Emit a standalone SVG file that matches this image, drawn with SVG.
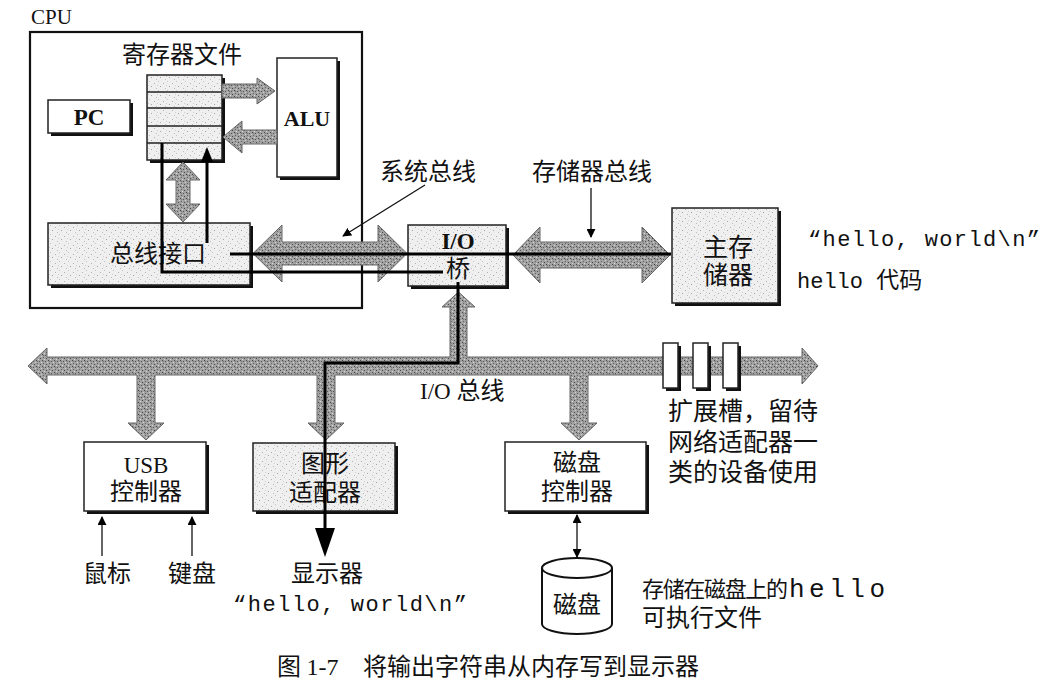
<svg xmlns="http://www.w3.org/2000/svg" width="1048" height="698" viewBox="0 0 1048 698">
<style>
.cjk{font-family:"Noto Sans CJK SC","Noto Sans",sans-serif;fill:#111}
.ser{font-family:"Liberation Serif",serif;fill:#111}
.mono{font-family:"Liberation Mono",monospace;fill:#111}
.box{stroke:#222;stroke-width:1.5}
.sh{fill:#111}
.wl{fill:#fff}
.lt{fill:url(#light)}
.fat{fill:url(#dark);stroke:#666;stroke-width:1}
.blk{fill:none;stroke:#000;stroke-width:3}
.thin{fill:none;stroke:#111;stroke-width:1.3}
.c{text-anchor:middle}
</style>
<defs>
<pattern id="light" width="9" height="9" patternUnits="userSpaceOnUse">
<rect width="9" height="9" fill="#efefef"/>
<rect x="1" y="2" width="1" height="1" fill="#b0b0b0"/>
<rect x="5" y="0" width="1" height="1" fill="#c4c4c4"/>
<rect x="7" y="5" width="1" height="1" fill="#a5a5a5"/>
<rect x="3" y="7" width="1" height="1" fill="#bdbdbd"/>
<rect x="4" y="4" width="1" height="1" fill="#d0d0d0"/>
</pattern>
<pattern id="dark" width="6" height="6" patternUnits="userSpaceOnUse">
<rect width="6" height="6" fill="#a2a2a2"/>
<rect x="0" y="0" width="1" height="1" fill="#444"/>
<rect x="3" y="1" width="1" height="1" fill="#555"/>
<rect x="1" y="3" width="1" height="1" fill="#666"/>
<rect x="4" y="4" width="1" height="1" fill="#4a4a4a"/>
<rect x="2" y="5" width="1" height="1" fill="#d8d8d8"/>
<rect x="5" y="2" width="1" height="1" fill="#d0d0d0"/>
<rect x="1" y="1" width="1" height="1" fill="#777"/>
</pattern>
<marker id="tri" viewBox="0 0 10 10" refX="9" refY="5" markerWidth="9" markerHeight="9" markerUnits="userSpaceOnUse" orient="auto-start-reverse">
<path d="M0,0 L10,5 L0,10 Z" fill="#000"/>
</marker>
</defs>

<text class="ser" x="31" y="24" font-size="21">CPU</text>

<g id="cpu">
<rect x="30" y="32" width="332" height="276" fill="none" stroke="#111" stroke-width="2.2"/>
</g>

<g id="pc">
<rect class="sh" x="51" y="103" width="82" height="33"/>
<rect class="box wl" x="48" y="100" width="82" height="33"/>
<text class="ser c" x="89" y="125" font-size="23" font-weight="bold">PC</text>
</g>

<g id="regfile">
<text class="cjk c" x="182" y="63" font-size="24">寄存器文件</text>
<rect class="sh" x="150" y="78" width="75" height="85"/>
<rect class="box lt" x="147" y="75" width="75" height="85"/>
<path d="M147,92 H222 M147,108 H222 M147,126 H222 M147,143 H222" stroke="#222" stroke-width="1.5"/>
</g>

<g id="alu">
<rect class="sh" x="280" y="61" width="60" height="119"/>
<rect class="box wl" x="277" y="58" width="60" height="119"/>
<text class="ser c" x="307" y="126" font-size="22" font-weight="bold">ALU</text>
</g>

<g id="businterface">
<rect class="sh" x="51" y="226" width="202" height="62"/>
<rect class="box lt" x="48" y="223" width="202" height="62"/>
<text class="cjk c" x="158" y="262" font-size="24">总线接口</text>
</g>

<g id="iobridge">
<rect class="sh" x="411" y="228" width="98" height="61"/>
<rect class="box lt" x="408" y="225" width="98" height="61"/>
<text class="ser c" x="458" y="249" font-size="23" font-weight="bold">I/O</text>
<text class="cjk c" x="458" y="277" font-size="24">桥</text>
</g>

<g id="mainmemory">
<rect class="sh" x="675" y="211" width="106" height="95"/>
<rect class="box lt" x="672" y="208" width="106" height="95"/>
<text class="cjk c" x="728" y="256" font-size="25">主存</text>
<text class="cjk c" x="728" y="284" font-size="25">储器</text>
</g>

<g id="memtext">
<text class="mono" x="808" y="246" font-size="22" textLength="232">“hello, world\n”</text>
<text class="mono" x="797" y="288" font-size="22">hello <tspan class="cjk" font-size="23">代码</tspan></text>
</g>

<g id="usb">
<rect class="sh" x="87" y="445" width="122" height="69"/>
<rect class="box wl" x="84" y="442" width="122" height="69"/>
<text class="ser c" x="146" y="473" font-size="23">USB</text>
<text class="cjk c" x="146" y="500" font-size="24">控制器</text>
</g>

<g id="graphics">
<rect class="sh" x="256" y="446" width="142" height="68"/>
<rect class="box lt" x="253" y="443" width="142" height="68"/>
<text class="cjk c" x="325" y="472" font-size="24">图形</text>
<text class="cjk c" x="325" y="501" font-size="24">适配器</text>
</g>

<g id="diskctrl">
<rect class="sh" x="508" y="445" width="141" height="69"/>
<rect class="box wl" x="505" y="442" width="141" height="69"/>
<text class="cjk c" x="577" y="471" font-size="24">磁盘</text>
<text class="cjk c" x="577" y="500" font-size="24">控制器</text>
</g>

<g id="disk">
<path d="M542,568 V624 A35,10 0 0 0 612,624 V568" fill="#fff" stroke="#111" stroke-width="2"/>
<ellipse cx="577" cy="568" rx="35" ry="10" fill="#fff" stroke="#111" stroke-width="2"/>
<text class="cjk c" x="577" y="613" font-size="24">磁盘</text>
</g>

<g id="connectors">
<polygon class="fat" points="222,84 257,84 257,78 275,91 257,104 257,98 222,98"/>
<polygon class="fat" points="277,130 242,130 242,121 223,137 242,153 242,144 277,144"/>
<polygon class="fat" points="183,162 200,180 190,180 190,204 200,204 183,222 166,204 176,204 176,180 166,180"/>
<polygon class="fat" points="253,253.5 282,225 282,242 378,242 378,225 407,253.5 378,282 378,265 282,265 282,282"/>
<polygon class="fat" points="513,255 540,227 540,242 642,242 642,227 670,255 642,283 642,268 540,268 540,283"/>
<path class="fat" d="M28,366 L47,348 L47,357 L450,357 L450,307 L442,307 L458.5,292 L475,307 L467,307 L467,357 L802,357 L802,348 L818,366 L802,384 L802,375 L588,375 L588,423 L597,423 L579,440 L561,423 L570,423 L570,375 L335,375 L335,423 L344,423 L326,440 L308,423 L317,423 L317,375 L155,375 L155,423 L164,423 L146,440 L128,423 L137,423 L137,375 L47,375 L47,384 Z"/>
<rect class="sh" x="666" y="346" width="15" height="45"/>
<rect class="box wl" x="663" y="343" width="15" height="45"/>
<rect class="sh" x="696" y="346" width="15" height="45"/>
<rect class="box wl" x="693" y="343" width="15" height="45"/>
<rect class="sh" x="726" y="346" width="15" height="45"/>
<rect class="box wl" x="723" y="343" width="15" height="45"/>

<path class="blk" d="M162,143 V272 H443"/>
<path class="blk" d="M207,243 V160"/>
<polygon points="201,162 213,162 207,147" fill="#000"/>
<path class="blk" d="M230,254 H671"/>
<path class="blk" d="M458,282 V363 H325 V530"/>
<polygon points="315,528 335,528 325,557" fill="#000"/>

<path class="thin" d="M425,185 L343,236" marker-end="url(#tri)"/>
<path class="thin" d="M591,188 V237" marker-end="url(#tri)"/>

<path class="thin" d="M102,556 V517" marker-end="url(#tri)"/>
<path class="thin" d="M192,556 V517" marker-end="url(#tri)"/>
<path class="thin" d="M577,515 V557" marker-start="url(#tri)" marker-end="url(#tri)"/>
</g>

<g id="labels">
<text class="cjk" x="380" y="180" font-size="24">系统总线</text>
<text class="cjk" x="532" y="180" font-size="24">存储器总线</text>
<text x="420" y="399" font-size="24"><tspan class="ser" font-size="23">I/O </tspan><tspan class="cjk">总线</tspan></text>
<text class="cjk" x="668" y="420" font-size="25">扩展槽，留待</text>
<text class="cjk" x="668" y="451" font-size="25">网络适配器一</text>
<text class="cjk" x="668" y="481" font-size="25">类的设备使用</text>
<text class="cjk c" x="107" y="582" font-size="24">鼠标</text>
<text class="cjk c" x="192" y="582" font-size="24">键盘</text>
<text class="cjk c" x="327" y="582" font-size="24">显示器</text>
<text class="mono" x="233" y="611" font-size="22" textLength="234">“hello, world\n”</text>
<text class="cjk" x="642" y="597" font-size="22" textLength="146">存储在磁盘上的</text>
<text class="mono" x="789" y="597" font-size="26" textLength="96">hello</text>
<text class="cjk" x="642" y="626" font-size="24">可执行文件</text>
<text class="cjk" x="277" y="675" font-size="24">图 <tspan class="ser">1-7</tspan></text>
<text class="cjk" x="363" y="675" font-size="24">将输出字符串从内存写到显示器</text>
</g>
</svg>
